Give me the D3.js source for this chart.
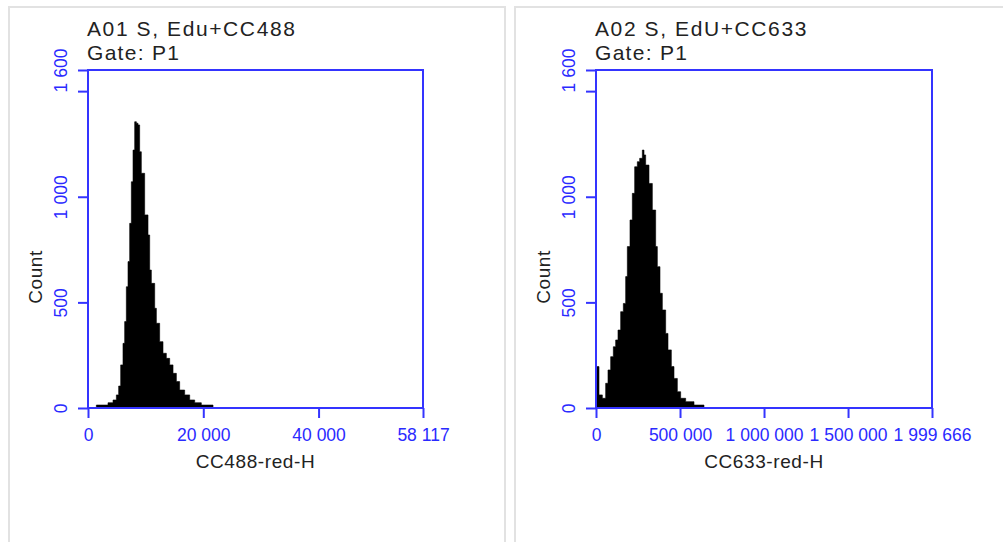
<!DOCTYPE html>
<html>
<head>
<meta charset="utf-8">
<script src="https://cdn.jsdelivr.net/npm/d3@7/dist/d3.min.js"></script>
<style>
  html, body { margin: 0; padding: 0; background: #fff; }
  svg { display: block; }
  text { font-family: "Liberation Sans", Arial, sans-serif; }
</style>
</head>
<body>
<svg id="chart" width="1003" height="542"></svg>
<script>
// ---------- data ----------
const panelTitles = ["A01 S, Edu+CC488", "A02 S, EdU+CC633"];
const gateLabels = ["Gate: P1", "Gate: P1"];
const xAxisTitles = ["CC488-red-H", "CC633-red-H"];
const yAxisTitle = "Count";
const xMaxValues = [58117, 1999666];
const yMaxValue = 1600;
const xTicks1 = [0, 20000, 40000, 58117];
const xTicks2 = [0, 500000, 1000000, 1500000, 1999666];
const yTicks = [0, 500, 1000, 1500, 1600];
const yTickLabels = ["0", "500", "1 000", "", "1 600"];

// histogram 1: left edge of each step (CC488-red-H) and its count
const hist1X = [1450, 3470, 4340, 4920, 5320, 5670, 6070, 6360, 6650, 6940, 7230, 7520, 7810, 8100, 8390, 8680, 8960, 9250, 9830, 10410, 10700, 10990, 11570, 11860, 12430, 13010, 13590, 14170, 14750, 15330, 15900, 16770, 17640, 18510, 19660, 21690];
const hist1Count = [14, 25, 38, 62, 104, 204, 306, 409, 574, 693, 874, 1071, 1221, 1355, 1348, 1340, 1213, 1111, 914, 819, 653, 590, 472, 401, 314, 259, 235, 204, 164, 125, 85, 62, 38, 25, 14, 0];

// histogram 2: left edge of each step (CC633-red-H) and its count
const hist2X = [0, 17850, 37690, 57530, 71410, 87280, 103150, 117040, 130920, 146790, 162660, 176550, 186460, 202330, 216220, 230100, 245970, 259860, 275730, 285650, 295560, 315400, 335240, 355080, 365000, 380860, 394750, 414590, 428470, 448310, 464180, 484020, 503850, 533600, 583200, 642710];
const hist2Count = [196, 62, 46, 117, 180, 243, 290, 322, 369, 456, 495, 622, 764, 890, 1016, 1142, 1166, 1182, 1221, 1198, 1150, 1063, 937, 764, 669, 543, 464, 353, 275, 196, 140, 77, 46, 30, 14, 0];

const panels = [
  { title: panelTitles[0], gate: gateLabels[0], xTitle: xAxisTitles[0], xMax: xMaxValues[0], xTicks: xTicks1, hx: hist1X, hc: hist1Count },
  { title: panelTitles[1], gate: gateLabels[1], xTitle: xAxisTitles[1], xMax: xMaxValues[1], xTicks: xTicks2, hx: hist2X, hc: hist2Count }
];

// ---------- layout ----------
const svg = d3.select("#chart");
const BLUE = "#2a2aff";
const LINE = "#3434ff";
const locale = d3.formatLocale({ decimal: ".", thousands: " ", grouping: [3], currency: ["", ""] });
const fmt = locale.format(",");

// panel frames
const frames = [{ x: 9, w: 496 }, { x: 515, w: 500 }];
frames.forEach(f => {
  svg.append("rect")
    .attr("x", f.x).attr("y", 7).attr("width", f.w).attr("height", 560)
    .attr("fill", "none").attr("stroke", "#e2e2e2").attr("stroke-width", 2);
});

panels.forEach((p, i) => {
  const off = i * 508;
  const L = 88 + off, R = 423 + off + i, T = 70, B = 408;
  const g = svg.append("g");

  const x = d3.scaleLinear().domain([0, p.xMax]).range([L, R]);
  const y = d3.scaleLinear().domain([0, yMaxValue]).range([B, T]);

  // histogram
  const pts = p.hx.map((v, k) => [v, p.hc[k]]);
  const area = d3.area()
    .x(d => x(d[0]))
    .y0(y(0))
    .y1(d => y(d[1]))
    .curve(d3.curveStepAfter);
  g.append("path").datum(pts).attr("d", area)
    .attr("fill", "#000").attr("stroke", "#000").attr("stroke-width", 0.6)
    .attr("stroke-linejoin", "miter");

  // frame
  g.append("rect")
    .attr("x", L).attr("y", T).attr("width", R - L).attr("height", B - T)
    .attr("fill", "none").attr("stroke", LINE).attr("stroke-width", 2);

  // x axis
  const xa = g.append("g").attr("transform", `translate(0,${B})`)
    .call(d3.axisBottom(x).tickValues(p.xTicks).tickSize(10).tickSizeOuter(0).tickPadding(11).tickFormat(fmt));
  xa.select(".domain").remove();
  xa.selectAll("line").attr("stroke", LINE).attr("stroke-width", 2);
  xa.selectAll("text").attr("fill", BLUE).style("font-size", "17.5px").style("font-family", "'Liberation Sans', Arial, sans-serif");

  // y axis
  const ya = g.append("g").attr("transform", `translate(${L},0)`)
    .call(d3.axisLeft(y).tickValues(yTicks).tickSize(10).tickSizeOuter(0).tickFormat((d, k) => yTickLabels[k]));
  ya.select(".domain").remove();
  ya.selectAll("line").attr("stroke", LINE).attr("stroke-width", 2);
  ya.selectAll("text")
    .attr("transform", "rotate(-90)")
    .attr("x", 0).attr("y", -21).attr("dy", 0)
    .attr("text-anchor", "middle")
    .attr("fill", BLUE).style("font-size", "17.5px").style("font-family", "'Liberation Sans', Arial, sans-serif");

  // titles
  g.append("text").attr("x", L - 1).attr("y", 36)
    .attr("fill", "#222").style("font-size", "21px").style("letter-spacing", "1.6px")
    .text(p.title);
  g.append("text").attr("x", L - 1).attr("y", 60)
    .attr("fill", "#222").style("font-size", "21px").style("letter-spacing", "1.3px")
    .text(p.gate);

  // x axis title
  g.append("text").attr("x", (L + R) / 2).attr("y", 468)
    .attr("text-anchor", "middle").attr("fill", "#222")
    .style("font-size", "19px").style("letter-spacing", "0.6px")
    .text(p.xTitle);

  // y axis title
  g.append("text")
    .attr("transform", `translate(${42 + off},277) rotate(-90)`)
    .attr("text-anchor", "middle").attr("fill", "#222")
    .style("font-size", "19px").style("letter-spacing", "0.6px")
    .text(yAxisTitle);
});
</script>
</body>
</html>
